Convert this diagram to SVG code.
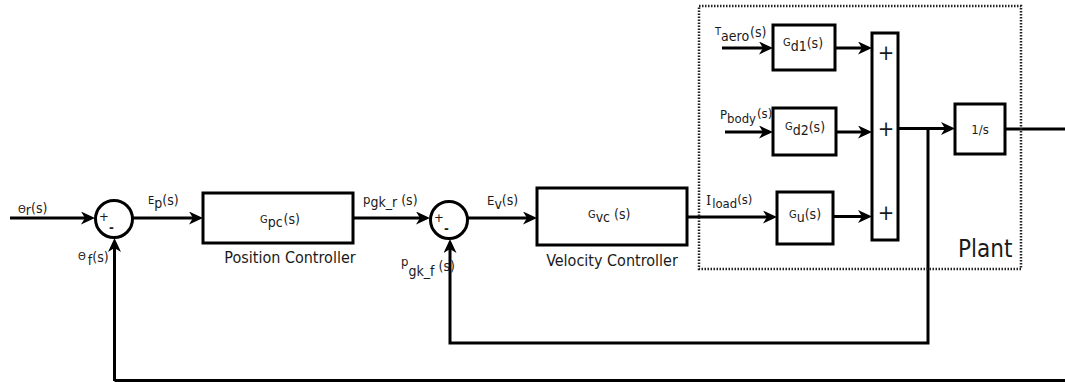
<svg xmlns="http://www.w3.org/2000/svg" width="1065" height="382" viewBox="0 0 1065 382">
<defs>
<marker id="ah" markerUnits="userSpaceOnUse" markerWidth="15" markerHeight="13" refX="10" refY="6.5" orient="auto" viewBox="0 0 15 13">
<path d="M0,0 L14,6.5 L0,13 L4,6.5 z" fill="#000"/>
</marker>
<style>
.ln{fill:none;stroke:#000;stroke-width:3}
.ar{marker-end:url(#ah)}
.bx{fill:#fff;stroke:#000;stroke-width:3}
text{font-family:"DejaVu Sans Condensed","DejaVu Sans",sans-serif;fill:#1a1a1a;font-size:13px}
.sm{font-size:11px}
.lb{font-size:16px}
.pl{font-size:24px}
.pm{font-size:22px}
</style>
</defs>
<rect width="1065" height="382" fill="#fff"/>

<g id="connectors">
<path class="ln ar" d="M10,218 H91"/>
<path class="ln ar" d="M133,218 H199"/>
<path class="ln ar" d="M353,218 H426"/>
<path class="ln ar" d="M468,218 H533"/>
<path class="ln ar" d="M687,217 H773"/>
<path class="ln ar" d="M833,216.5 H868"/>
<path class="ln ar" d="M722,48 H769"/>
<path class="ln ar" d="M835,48 H868"/>
<path class="ln ar" d="M725,132 H769"/>
<path class="ln ar" d="M836,132 H868"/>
<path class="ln ar" d="M898,128.5 H951"/>
<path class="ln" d="M1005,129 H1065"/>
<path class="ln ar" d="M928,129 V343 H450 V243"/>
<path stroke="#000" stroke-width="3" fill="none" d="M1065,380.5 H114.5"/>
<path class="ln ar" d="M114.5,381 V242"/>
</g>

<g id="plant">
<rect x="699" y="6" width="322" height="263" fill="none" stroke="#222" stroke-width="2.5" stroke-dasharray="1.5 1.5"/>
<text class="pl" x="958" y="257">Plant</text>
</g>

<g id="sum1">
<circle cx="114" cy="219" r="18.5" fill="#fff" stroke="#000" stroke-width="3"/>
<text x="99" y="221" font-size="14">+</text>
<text x="109" y="232" font-size="16" font-weight="bold">-</text>
</g>

<g id="sum2">
<circle cx="449" cy="220" r="18.5" fill="#fff" stroke="#000" stroke-width="3"/>
<text x="434" y="222" font-size="14">+</text>
<text x="444" y="233" font-size="16" font-weight="bold">-</text>
</g>

<g id="gpc">
<rect class="bx" x="203" y="193" width="150" height="50"/>
<text class="sm" x="260" y="223">G<tspan font-size="14" dy="4">pc</tspan><tspan font-size="14" dx="1" dy="-3">(s)</tspan></text>
<text class="lb" x="290" y="263" text-anchor="middle">Position Controller</text>
</g>

<g id="gvc">
<rect class="bx" x="537" y="188" width="150" height="57"/>
<text class="sm" x="588" y="218">G<tspan font-size="14" dy="4">vc</tspan><tspan font-size="14" dx="4" dy="-3">(s)</tspan></text>
<text class="lb" x="612" y="266" text-anchor="middle">Velocity Controller</text>
</g>

<g id="gd1">
<rect class="bx" x="773" y="25" width="62" height="45"/>
<text class="sm" x="783" y="46">G<tspan font-size="14" dy="5">d1</tspan><tspan font-size="14" dy="-3">(s)</tspan></text>
</g>

<g id="gd2">
<rect class="bx" x="773" y="108" width="63" height="47"/>
<text class="sm" x="785" y="130">G<tspan font-size="14" dy="5">d2</tspan><tspan font-size="14" dy="-3">(s)</tspan></text>
</g>

<g id="gu">
<rect class="bx" x="777" y="192" width="56" height="52"/>
<text class="sm" x="789" y="218">G<tspan font-size="14" dy="4">u</tspan><tspan font-size="14" dy="-3">(s)</tspan></text>
</g>

<g id="sumbar">
<rect class="bx" x="872" y="33" width="26" height="207"/>
<text class="pm" x="886" y="60" text-anchor="middle">+</text>
<text class="pm" x="886" y="136" text-anchor="middle">+</text>
<text class="pm" x="886" y="220" text-anchor="middle">+</text>
</g>

<g id="integ">
<rect class="bx" x="955" y="104" width="50" height="50"/>
<text x="980" y="134" font-size="12" text-anchor="middle">1/s</text>
</g>

<g id="labels">
<text class="sm" x="18" y="213">Θ<tspan font-size="14" dy="2">r</tspan><tspan font-size="14" dy="-2">(s)</tspan></text>
<text class="sm" x="148" y="204">E<tspan font-size="14" dy="4">p</tspan><tspan font-size="14" dy="-3">(s)</tspan></text>
<text class="sm" x="78" y="260">Θ<tspan font-size="14" dx="2" dy="5">f</tspan><tspan font-size="14" dy="-3">(s)</tspan></text>
<text font-size="12" x="363" y="204">p<tspan font-size="14" dy="3">gk_r</tspan><tspan font-size="14" dx="4" dy="-2">(s)</tspan></text>
<text font-size="11" x="401" y="266">p<tspan font-size="14" dx="0" dy="10">gk_f</tspan><tspan font-size="14" dx="4" dy="-5">(s)</tspan></text>
<text font-size="11" x="487" y="205">E<tspan font-size="14" dy="4">v</tspan><tspan font-size="14" dy="-4">(s)</tspan></text>
<text font-size="14" x="706" y="205"><tspan font-family="DejaVu Serif">I</tspan><tspan dx="1" dy="3">load</tspan><tspan dy="-4">(s)</tspan></text>
<text class="sm" x="715" y="35">T<tspan font-size="14" dy="6">aero</tspan><tspan font-size="14" dx="1" dy="-4">(s)</tspan></text>
<text font-size="14" x="720" y="119">P<tspan dy="4">body</tspan><tspan dx="1" dy="-5">(s)</tspan></text>
</g>
</svg>
